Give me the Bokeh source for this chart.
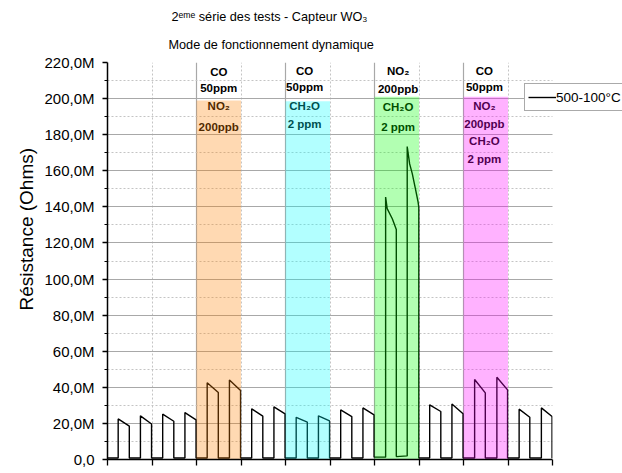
from bokeh.plotting import figure
from bokeh.models import (FixedTicker, Legend, LegendItem, Range1d, Title,
                          BoxAnnotation)
from bokeh.core.properties import value
from bokeh.embed import file_html
from bokeh.resources import INLINE

# ---------------- data (resistance in MOhm, time in arbitrary cycle units) ----------------
time = [0.0,
        0.24, 0.24, 0.49, 0.49,
        0.74, 0.74, 0.99, 0.99,
        1.24, 1.24, 1.49, 1.49,
        1.74, 1.74, 1.99, 1.99,
        2.24, 2.24, 2.49, 2.49,
        2.74, 2.74, 2.99, 2.99,
        3.24, 3.24, 3.49, 3.49,
        3.74, 3.74, 3.99, 3.99,
        4.24, 4.24, 4.49, 4.49,
        4.74, 4.74, 4.99, 4.99,
        5.24, 5.24, 5.49, 5.49,
        5.74, 5.74, 5.99, 5.99,
        6.25, 6.25, 6.285, 6.40, 6.49, 6.49,
        6.735, 6.735, 6.79, 6.85, 6.92, 6.98, 6.995, 6.995,
        7.24, 7.24, 7.49, 7.49,
        7.74, 7.74, 7.99, 7.99,
        8.25, 8.25, 8.49, 8.49,
        8.75, 8.75, 8.99, 8.99,
        9.25, 9.25, 9.49, 9.49,
        9.75, 9.75, 9.99, 9.99, 10.0]
resistance = [0.8,
              0.8, 22.5, 18.5, 0.8,
              0.8, 24.2, 19.7, 0.8,
              0.8, 25.1, 21.2, 0.8,
              0.8, 26.0, 22.0, 0.8,
              0.8, 42.5, 37.1, 0.8,
              0.8, 44.1, 38.2, 0.8,
              0.8, 28.1, 24.0, 0.8,
              0.8, 29.2, 25.3, 0.8,
              0.8, 23.4, 20.7, 0.8,
              0.8, 24.2, 21.4, 0.8,
              0.8, 27.5, 23.8, 0.8,
              0.8, 28.6, 24.7, 1.3,
              1.3, 145.4, 139.0, 133.4, 127.4, 1.6,
              2.0, 173.4, 163.8, 158.3, 150.0, 142.6, 139.8, 0.8,
              0.8, 30.3, 26.6, 0.8,
              0.8, 30.8, 25.3, 0.8,
              0.8, 44.3, 36.9, 0.8,
              0.8, 45.6, 38.6, 0.8,
              0.8, 27.9, 23.4, 0.8,
              0.8, 28.6, 23.8, 0.8, 0.8]
series_name = "500-100°C"

y_ticks = [0, 20, 40, 60, 80, 100, 120, 140, 160, 180, 200, 220]
y_minor = [10, 30, 50, 70, 90, 110, 130, 150, 170, 190, 210]
y_tick_labels = ["0,0", "20,0M", "40,0M", "60,0M", "80,0M", "100,0M", "120,0M",
                 "140,0M", "160,0M", "180,0M", "200,0M", "220,0M"]
x_ticks = [0, 1, 2, 3, 4, 5, 6, 7, 8, 9, 10]

# gas exposure windows
region_start = [2, 4, 6, 8]
region_end = [3, 5, 7, 9]
region_top = [199.0, 198.5, 201.0, 201.0]
region_color = ["#ff8000", "#00ffff", "#00ff00", "#ff00ff"]

# annotations: text above windows / inside windows
above_text = ["CO", "50ppm", "CO", "50ppm", "NO₂", "200ppb", "CO", "50ppm"]
above_x = [2.5, 2.5, 4.43, 4.43, 6.53, 6.53, 8.47, 8.47]
above_y = [215.0, 205.8, 215.5, 206.3, 215.5, 205.3, 215.2, 206.3]
inside_text = ["NO₂", "200ppb", "CH₂O", "2 ppm", "CH₂O", "2 ppm",
               "NO₂", "200ppb", "CH₂O", "2 ppm"]
inside_x = [2.5, 2.5, 4.43, 4.43, 6.53, 6.53, 8.47, 8.47, 8.47, 8.47]
inside_y = [195.7, 184.5, 196.0, 186.0, 195.2, 184.5, 196.0, 186.0, 176.7, 166.6]

title_1 = "2ᵉᵐᵉ série des tests - Capteur WO₃"
title_2 = "Mode de fonctionnement dynamique"
y_title = "Résistance (Ohms)"

FONT = "Liberation Sans"

X_MAX = 10.0
X_VIEW = 11.573   # the legend runs off the right edge of the picture

p = figure(width=622, height=473, output_backend="svg", toolbar_location=None,
           x_range=Range1d(0, X_VIEW), y_range=Range1d(0, 220),
           min_border_left=107, min_border_right=0, min_border_top=62,
           min_border_bottom=14)
p.outline_line_color = None
p.background_fill_color = "white"
p.border_fill_color = "white"

# axes
p.xaxis.ticker = FixedTicker(ticks=x_ticks)
p.xaxis.bounds = (0, X_MAX)
p.xaxis.major_label_overrides = {t: "" for t in x_ticks}
p.xaxis.major_label_text_font_size = "1px"
p.xaxis.major_label_standoff = 0
p.xaxis.axis_line_color = "black"
p.xaxis.axis_line_width = 1.5
p.xaxis.major_tick_line_color = "black"
p.xaxis.major_tick_line_width = 1.3
p.xaxis.major_tick_out = 6
p.xaxis.major_tick_in = 0
p.xaxis.minor_tick_line_color = None

p.yaxis.ticker = FixedTicker(ticks=y_ticks, minor_ticks=y_minor)
p.yaxis.major_label_overrides = dict(zip(y_ticks, y_tick_labels))
p.yaxis.major_label_text_font = FONT
p.yaxis.major_label_text_font_size = "15px"
p.yaxis.major_label_text_color = "black"
p.yaxis.major_label_standoff = 8
p.yaxis.axis_line_color = "black"
p.yaxis.axis_line_width = 1.5
p.yaxis.major_tick_line_color = "black"
p.yaxis.major_tick_line_width = 1.3
p.yaxis.major_tick_out = 5
p.yaxis.major_tick_in = 0
p.yaxis.minor_tick_line_color = "black"
p.yaxis.minor_tick_line_width = 1.2
p.yaxis.minor_tick_out = 3
p.yaxis.minor_tick_in = 0

# grids
p.ygrid.ticker = FixedTicker(ticks=y_ticks[1:], minor_ticks=y_minor)
p.ygrid.grid_line_color = "#a8a8a8"
p.ygrid.grid_line_width = 1.2
p.ygrid.minor_grid_line_color = "#c4c4c4"
p.ygrid.minor_grid_line_dash = "2 2"
p.xgrid.ticker = FixedTicker(ticks=[2, 4, 6, 8], minor_ticks=[1, 3, 5, 7, 9])
p.xgrid.grid_line_color = "#a8a8a8"
p.xgrid.grid_line_width = 1.2
p.xgrid.minor_grid_line_color = "#c4c4c4"
p.xgrid.minor_grid_line_dash = "2 2"

# the sensor signal
line_r = p.line(time, resistance, line_color="black", line_width=1.4)

# texts that lie inside the coloured windows (tinted by the overlay)
p.text(x=inside_x, y=inside_y, text=inside_text, text_align="center",
       text_baseline="middle", text_font=value(FONT), text_font_style="bold",
       text_font_size="11.5px", text_color="black")

# coloured semi-transparent exposure windows drawn over the signal
p.quad(left=region_start, right=region_end, bottom=[0] * 4, top=region_top,
       fill_color=region_color, fill_alpha=0.3, line_color=None)

p.text(x=above_x, y=above_y, text=above_text, text_align="center",
       text_baseline="middle", text_font=value(FONT), text_font_style="bold",
       text_font_size="11.5px", text_color="black")

# white strip right of the x axis end (the grid stops at the axis end)
p.add_layout(BoxAnnotation(left=X_MAX, fill_color="white", fill_alpha=1.0,
                           line_color=None))

# two-line title
p.add_layout(Title(text=title_2, align="left", offset=61, standoff=21,
                   text_font=FONT, text_font_size="12.7px",
                   text_font_style="normal", text_color="black"), "above")
p.add_layout(Title(text=title_1, align="left", offset=64, standoff=3,
                   text_font=FONT, text_font_size="12.7px",
                   text_font_style="normal", text_color="black"), "above")

# y title, placed on the left (not centred on the frame, as in the reference)
p.add_layout(Title(text=y_title, align="left", offset=144, standoff=0,
                   padding=5,
                   text_font=FONT, text_font_size="19px",
                   text_font_style="normal", text_color="black"), "left")

legend = Legend(items=[LegendItem(label=series_name, renderers=[line_r])],
                location=(417, 348), orientation="vertical",
                glyph_width=28, glyph_height=20, label_height=20,
                label_standoff=0, padding=3, margin=0, spacing=0,
                label_text_font=FONT, label_text_font_size="13.5px",
                label_text_color="black",
                border_line_color="#555555", border_line_width=1.5,
                background_fill_color="white", background_fill_alpha=1.0)
p.add_layout(legend)

open("out.html", "w").write(file_html(p, INLINE))
